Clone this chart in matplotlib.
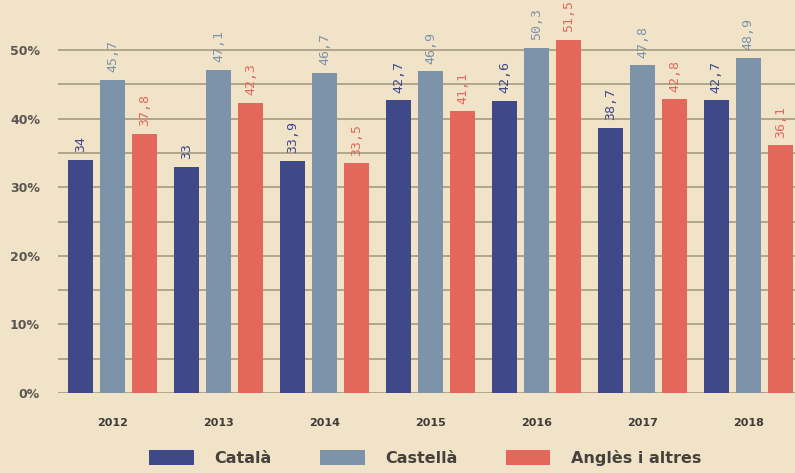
import matplotlib
matplotlib.use("Agg")
import matplotlib.pyplot as plt
import numpy as np

years = ["2012", "2013", "2014", "2015", "2016", "2017", "2018"]
catala = [34.0, 33.0, 33.9, 42.7, 42.6, 38.7, 42.7]
castella = [45.7, 47.1, 46.7, 46.9, 50.3, 47.8, 48.9]
angles = [37.8, 42.3, 33.5, 41.1, 51.5, 42.8, 36.1]
series_names = ["Català", "Castellà", "Anglès i altres"]
yticks = [0, 10, 20, 30, 40, 50]

colors = ["#3f4889", "#7c93a9", "#e4675c"]
bg = "#f1e3c8"

fig = plt.figure(figsize=(7.95, 4.73), dpi=100, facecolor=bg)
ax = fig.add_axes([0.073, 0.169, 0.927, 0.831])
ax.set_facecolor(bg)

x = np.arange(len(years))
w = 0.236
off = 0.302
for i, (vals, c) in enumerate(zip([catala, castella, angles], colors)):
    pos = x + (i - 1) * off
    ax.bar(pos, vals, width=w, color=c, zorder=3, label=series_names[i])
    for px, v in zip(pos, vals):
        txt = f"{v:g}".replace(".", ",")
        ax.text(px, v + 1.1, txt, rotation=90, ha="center", va="bottom",
                color=c, fontsize=9.5, family="DejaVu Sans Mono",
                fontweight="medium", clip_on=False, zorder=4)

ax.set_xlim(-0.514, 6.44)
ax.set_ylim(0, 57.3)
for g in np.arange(0, 51, 5):
    ax.axhline(g, color="#a39c80", lw=1.2, zorder=1)
ax.set_yticks(yticks)
ax.set_yticklabels([f"{t}%" for t in yticks], fontsize=9, color="#5a5650",
                   fontweight="bold")
ax.set_xticks(x)
ax.set_xticklabels(years, fontsize=8, fontweight="bold", color="#3e3b37")
ax.tick_params(axis="both", length=0)
ax.tick_params(axis="x", pad=18)
ax.tick_params(axis="y", pad=13)
for s in ax.spines.values():
    s.set_visible(False)

leg = fig.legend(loc="center", bbox_to_anchor=(0.535, 0.032), ncol=3,
                 frameon=False, handlelength=2.8, handleheight=1.1,
                 columnspacing=3.0, handletextpad=1.3,
                 prop={"size": 11.5, "weight": "bold"})
for t in leg.get_texts():
    t.set_color("#45423d")

fig.savefig("out.png", dpi=100, facecolor=bg)
